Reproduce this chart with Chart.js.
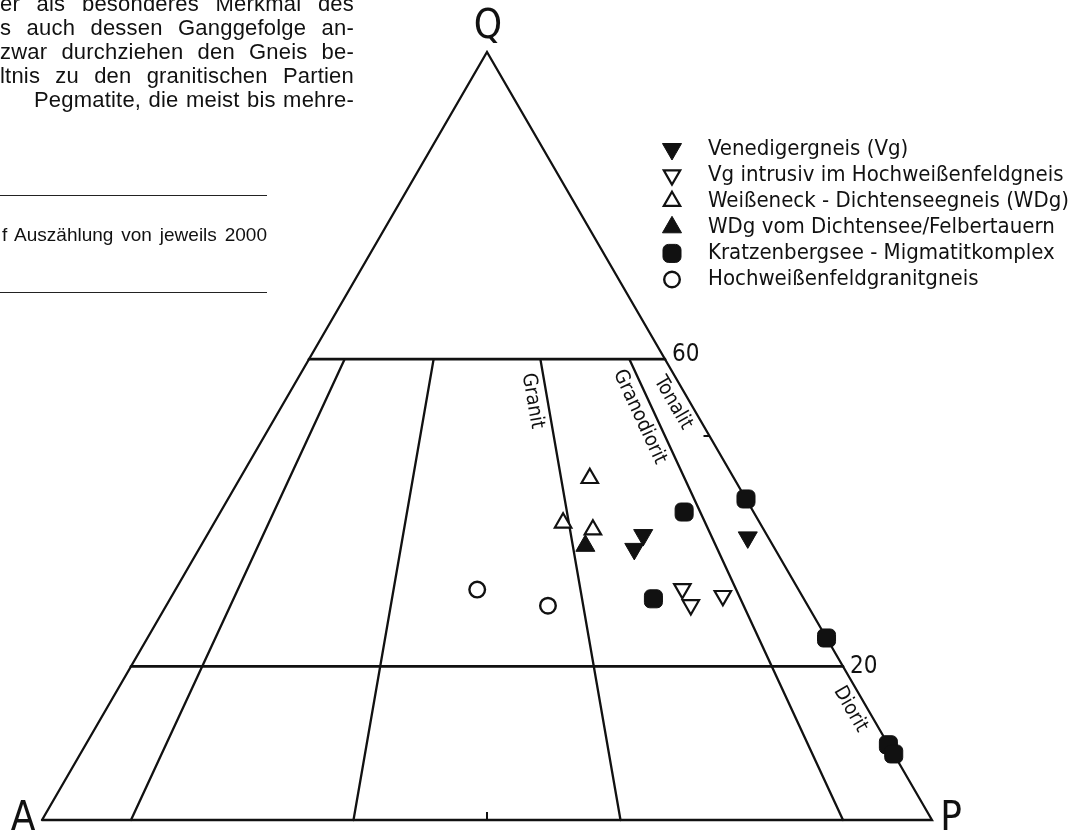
<!DOCTYPE html>
<html>
<head>
<meta charset="utf-8">
<script src="https://cdn.jsdelivr.net/npm/chart.js@4.4.1/dist/chart.umd.min.js"></script>
<style>
html, body { margin: 0; padding: 0; background: #fff; }
#wrap { position: relative; width: 1070px; height: 833px; overflow: hidden; background: #fff; }
#qap { position: absolute; left: 0; top: 0; }
.para {
	position: absolute; font-family: "Liberation Sans", Arial, sans-serif; font-size: 22px;
	line-height: 25px; color: #111; letter-spacing: 0.2px;
	text-align: justify; text-align-last: justify; white-space: normal;
}
.rule { position: absolute; left: 0; width: 267px; height: 0; border-top: 1.6px solid #222; }
</style>
</head>
<body>
<div id="wrap">
	<canvas id="qap" width="1070" height="833"></canvas>
	<!-- Reststück vom Fließtext der Seite -->
	<div class="para" style="left:0px;top:-9px;width:354px">er als besonderes Merkmal des</div>
	<div class="para" style="left:0px;top:15px;width:354px">s auch dessen Ganggefolge an-</div>
	<div class="para" style="left:0px;top:39px;width:354px">zwar durchziehen den Gneis be-</div>
	<div class="para" style="left:0px;top:63px;width:354px">ltnis zu den granitischen Partien</div>
	<div class="para" style="left:34px;top:87px;width:320px">Pegmatite, die meist bis mehre-</div>
	<div class="rule" style="top:195px"></div>
	<div class="para" style="left:2px;top:222px;width:265px;font-size:19px;letter-spacing:0;">f Auszählung von jeweils 2000</div>
	<div class="rule" style="top:292px"></div>
</div>
<script>
// --- Daten: Modalbestand in % [Q, A, P] ---
const venediger = [[37.1, 13.9, 49.0], [35.3, 15.8, 48.9], [36.8, 2.3, 60.9]];
const vgIntrusiv = [[30.1, 13.0, 56.9], [28.0, 13.1, 58.9], [29.2, 8.9, 61.9]];
const weisseneck = [[44.5, 16.2, 39.3], [38.7, 22.1, 39.2], [37.8, 19.2, 43.0]];
const wdgDichtensee = [[35.7, 21.1, 43.2]];
const kratzenberg = [[40.1, 7.8, 52.1], [41.8, 0, 58.2], [28.8, 16.9, 54.3], [23.7, 0, 76.3], [9.8, 0, 90.2], [8.6, 0, 91.4]];
const hochweissen = [[30.0, 36.1, 33.9], [27.9, 29.2, 42.9]];

const seriesNames = [
	"Venedigergneis (Vg)",
	"Vg intrusiv im Hochweißenfeldgneis",
	"Weißeneck - Dichtenseegneis (WDg)",
	"WDg vom Dichtensee/Felbertauern",
	"Kratzenbergsee - Migmatitkomplex",
	"Hochweißenfeldgranitgneis",
];

// Streckeisen: Grenzen P/(A+P) in %, Q-Niveaus
const fieldRatios = [10, 35, 65, 90];
const qLevels = [60, 20];
const qLevelLabels = ["60", "20"];
const cornerLabels = ["Q", "A", "P"];
const fieldNames = ["Granit", "Granodiorit", "Tonalit", "Diorit"];

// Dreieckskoordinaten -> x/y (A links, P rechts, Q oben)
function tern(q, a, p) {
	const s = q + a + p;
	q = (q / s) * 100;
	p = (p / s) * 100;
	return { x: p + q / 2, y: q };
}
const toPts = (arr) => arr.map((v) => tern(v[0], v[1], v[2]));

const INK = "#111";
const FONT = '"DejaVu Sans Condensed", "DejaVu Sans", sans-serif';

// Linien-Datasets
const lineSets = [];
const addLine = (pts, width) =>
	lineSets.push({
		data: pts, showLine: true, pointRadius: 0, borderColor: INK, borderWidth: width,
		tension: 0, order: 5, clip: false, borderCapStyle: "round", borderJoinStyle: "miter",
	});

addLine([tern(0, 100, 0), tern(0, 0, 100), tern(100, 0, 0), tern(0, 100, 0)], 2.3);
qLevels.forEach((q) => addLine([tern(q, 100 - q, 0), tern(q, 0, 100 - q)], 2.7));
fieldRatios.forEach((r) => {
	const top = 100 - qLevels[0];
	addLine([tern(qLevels[0], top * (1 - r / 100), (top * r) / 100), tern(0, 100 - r, r)], 2.3);
});

// Symbole
const styles = [
	{ pointStyle: "triangle", rotation: 180, radius: 11, fill: INK, bw: 1 },
	{ pointStyle: "triangle", rotation: 180, radius: 9.5, fill: "#fff", bw: 2.2 },
	{ pointStyle: "triangle", rotation: 0, radius: 9.5, fill: "#fff", bw: 2.2 },
	{ pointStyle: "triangle", rotation: 0, radius: 11, fill: INK, bw: 1 },
	{ pointStyle: "rectRounded", rotation: 0, radius: 10.5, fill: INK, bw: 1 },
	{ pointStyle: "circle", rotation: 0, radius: 7.8, fill: "#fff", bw: 2.4 },
];
const groups = [venediger, vgIntrusiv, weisseneck, wdgDichtensee, kratzenberg, hochweissen];

const pointSets = groups.map((g, i) => ({
	label: seriesNames[i],
	data: toPts(g),
	pointStyle: styles[i].pointStyle,
	rotation: styles[i].rotation,
	pointRadius: styles[i].radius,
	pointBackgroundColor: styles[i].fill,
	pointBorderColor: INK,
	pointBorderWidth: styles[i].bw,
	showLine: false,
	order: 0,
	clip: false,
}));

// Beschriftungen, Legende, Ticks
const qapPlugin = {
	id: "qapLabels",
	afterDatasetsDraw(chart) {
		const ctx = chart.ctx;
		const xs = chart.scales.x, ys = chart.scales.y;
		const px = (q, a, p) => {
			const c = tern(q, a, p);
			return [xs.getPixelForValue(c.x), ys.getPixelForValue(c.y)];
		};
		const onRatio = (q, r) => px(q, (100 - q) * (1 - r / 100), ((100 - q) * r) / 100);

		ctx.save();
		ctx.fillStyle = INK;
		ctx.strokeStyle = INK;

		// Ecken
		ctx.font = "40px " + FONT;
		ctx.textAlign = "center";
		ctx.textBaseline = "middle";
		const [qx, qy] = px(100, 0, 0);
		const [ax, ay] = px(0, 100, 0);
		const [ppx, ppy] = px(0, 0, 100);
		ctx.fillText(cornerLabels[0], qx + 1, qy - 24);
		ctx.fillText(cornerLabels[1], ax - 19, ay);
		ctx.fillText(cornerLabels[2], ppx + 19, ppy);

		// Q-Niveau Zahlen
		ctx.font = "24px " + FONT;
		ctx.textAlign = "left";
		qLevels.forEach((q, i) => {
			const [x, y] = px(q, 0, 100 - q);
			ctx.fillText(qLevelLabels[i], x + 7, y - (i === 0 ? 4 : 0));
		});

		// Feldnamen, gedreht entlang der Grenzlinien
		const place = [
			{ r: 65, q: 54.9 },
			{ r: 90, q: 53.3 },
			{ r: 100, q: 55.3 },
			{ r: 100, q: 15.4 },
		];
		ctx.font = "20px " + FONT;
		ctx.textAlign = "center";
		fieldNames.forEach((name, i) => {
			const [x, y] = onRatio(place[i].q, place[i].r);
			const [bx, by] = onRatio(0, place[i].r);
			const th = Math.atan2(by - qy, bx - qx);
			const d = 15;
			ctx.save();
			ctx.translate(x - Math.sin(th) * d, y + Math.cos(th) * d);
			ctx.rotate(th);
			ctx.fillText(name, 0, 0);
			ctx.restore();
		});

		// kleine Striche bei 50 %
		ctx.lineWidth = 2;
		ctx.beginPath();
		const [tx, ty] = px(50, 0, 50);
		ctx.moveTo(tx, ty);
		ctx.lineTo(tx - 6, ty);
		const [bx2, by2] = px(0, 50, 50);
		ctx.moveTo(bx2, by2);
		ctx.lineTo(bx2, by2 - 8);
		ctx.stroke();

		// Legende
		const lx = 672, tx0 = 708, ly0 = 149, dy = 26.1;
		ctx.font = "22px " + FONT;
		ctx.textAlign = "left";
		ctx.textBaseline = "middle";
		seriesNames.forEach((name, i) => {
			const y = ly0 + i * dy;
			const s = styles[i];
			ctx.fillStyle = s.fill;
			ctx.strokeStyle = INK;
			ctx.lineWidth = s.bw;
			Chart.helpers.drawPoint(ctx, { pointStyle: s.pointStyle, rotation: s.rotation, radius: s.radius, borderWidth: s.bw }, lx, y);
			ctx.fillStyle = INK;
			ctx.fillText(name, tx0, y);
		});
		ctx.restore();
	},
};

new Chart(document.getElementById("qap"), {
	type: "scatter",
	data: { datasets: [...pointSets, ...lineSets] },
	options: {
		responsive: false,
		animation: false,
		devicePixelRatio: 1,
		layout: { padding: { left: 42, right: 138, top: 52, bottom: 13 } },
		plugins: { legend: { display: false }, tooltip: { enabled: false } },
		scales: {
			x: { type: "linear", min: 0, max: 100, display: false },
			y: { type: "linear", min: 0, max: 100, display: false },
		},
	},
	plugins: [qapPlugin],
});
</script>
</body>
</html>
